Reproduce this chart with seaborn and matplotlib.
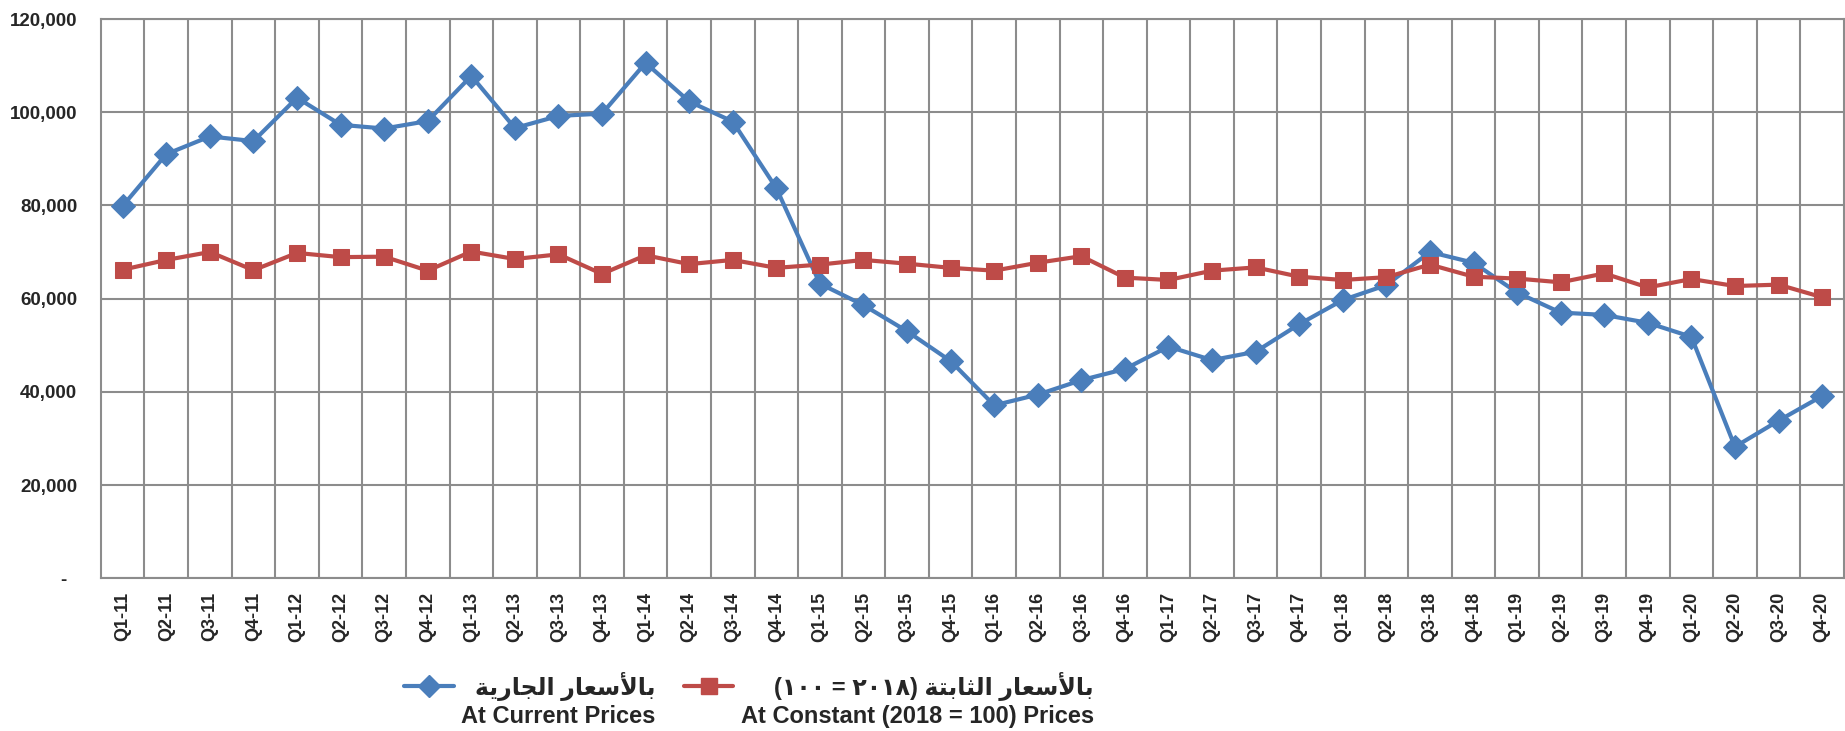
import numpy as np
import pandas as pd
import matplotlib
matplotlib.use("Agg")
import matplotlib.pyplot as plt
from matplotlib.lines import Line2D
from matplotlib.legend_handler import HandlerLine2D
from matplotlib.ticker import FuncFormatter, MultipleLocator
import seaborn as sns

# quarters on the x axis
quarters = ["Q1-11", "Q2-11", "Q3-11", "Q4-11", "Q1-12", "Q2-12", "Q3-12", "Q4-12",
            "Q1-13", "Q2-13", "Q3-13", "Q4-13", "Q1-14", "Q2-14", "Q3-14", "Q4-14",
            "Q1-15", "Q2-15", "Q3-15", "Q4-15", "Q1-16", "Q2-16", "Q3-16", "Q4-16",
            "Q1-17", "Q2-17", "Q3-17", "Q4-17", "Q1-18", "Q2-18", "Q3-18", "Q4-18",
            "Q1-19", "Q2-19", "Q3-19", "Q4-19", "Q1-20", "Q2-20", "Q3-20", "Q4-20"]

# at current prices
current = [79900, 91000, 94800, 93800, 103100, 97300, 96500, 98100,
           107800, 96600, 99200, 99700, 110600, 102300, 98000, 83700,
           63200, 58600, 53000, 46600, 37100, 39400, 42500, 44900,
           49700, 46800, 48600, 54500, 59700, 62900, 70000, 67700,
           61300, 57000, 56500, 54800, 51800, 28200, 33800, 39100]

# at constant (2018 = 100) prices
constant = [66200, 68300, 70000, 66100, 69800, 68900, 69000, 66000,
            70100, 68500, 69500, 65300, 69300, 67400, 68300, 66600,
            67300, 68300, 67500, 66600, 66000, 67700, 69100, 64500,
            64000, 66000, 66700, 64700, 64000, 64600, 67300, 64700,
            64300, 63500, 65400, 62400, 64200, 62700, 63000, 60300]

label_current = ("بالأسعار الجارية", "At Current Prices")
label_constant = ("بالأسعار الثابتة (٢٠١٨ = ١٠٠)", "At Constant (2018 = 100) Prices")


# --- tiny Arabic shaper (matplotlib has no bidi / joining support) ---
FORMS = {  # isolated, final, initial, medial
    "ب": "\uFE8F\uFE90\uFE91\uFE92", "ل": "\uFEDD\uFEDE\uFEDF\uFEE0",
    "س": "\uFEB1\uFEB2\uFEB3\uFEB4", "ع": "\uFEC9\uFECA\uFECB\uFECC",
    "ج": "\uFE9D\uFE9E\uFE9F\uFEA0", "ي": "\uFEF1\uFEF2\uFEF3\uFEF4",
    "ث": "\uFE99\uFE9A\uFE9B\uFE9C", "ت": "\uFE95\uFE96\uFE97\uFE98",
    "ا": "\uFE8D\uFE8E", "أ": "\uFE83\uFE84", "ر": "\uFEAD\uFEAE", "ة": "\uFE93\uFE94",
}
LAM_ALEF = {"ا": "\uFEFB\uFEFC", "أ": "\uFEF7\uFEF8"}


def shape(text):
    # merge lam + alef into ligature tokens first
    toks = []
    i = 0
    while i < len(text):
        c = text[i]
        if c == "ل" and i + 1 < len(text) and text[i + 1] in LAM_ALEF:
            toks.append(("LA", LAM_ALEF[text[i + 1]]))
            i += 2
        else:
            toks.append((c, FORMS.get(c)))
            i += 1
    out = []
    for k, (c, forms) in enumerate(toks):
        if forms is None:
            out.append(c)
            continue
        prev = toks[k - 1] if k > 0 else None
        nxt = toks[k + 1] if k + 1 < len(toks) else None
        j_prev = prev is not None and prev[1] is not None and len(prev[1]) == 4
        j_next = nxt is not None and nxt[1] is not None and len(forms) == 4
        if len(forms) == 2:
            out.append(forms[1] if j_prev else forms[0])
        elif j_prev and j_next:
            out.append(forms[3])
        else:
            out.append(forms[(1 if j_prev else 0) + (2 if j_next else 0)])
    return "".join(out)


def visual(text):
    s = shape(text)[::-1]
    # digits read left to right again, brackets mirrored
    res, run = [], ""
    for c in s:
        if "\u0660" <= c <= "\u0669" or c.isdigit():
            run += c
        else:
            res.append(run[::-1]); run = ""
            res.append({"(": ")", ")": "("}.get(c, c))
    res.append(run[::-1])
    return "".join(res)


class RaisedLine(HandlerLine2D):
    # legend handle drawn level with the first (Arabic) line of the label
    def create_artists(self, *args, **kwargs):
        arts = super().create_artists(*args, **kwargs)
        for a in arts:
            a.set_ydata([y + 7 for y in a.get_ydata()])
        return arts


sns.set_style("white")
plt.rcParams["font.family"] = ["Liberation Sans", "DejaVu Sans"]
plt.rcParams["font.weight"] = "bold"

blue = "#4A7EBB"
red = "#BE4B48"
grid_c = "#8C8C8C"

x = np.arange(len(quarters))
df = pd.DataFrame({"x": x, "current": current, "constant": constant})

fig = plt.figure(figsize=(18.45, 7.31), dpi=100)
ax = fig.add_axes([0.0547, 0.209, 0.9447, 0.765])

sns.lineplot(data=df, x="x", y="current", ax=ax, color=blue, lw=3,
             marker="D", markersize=12, markeredgecolor=blue, legend=False, zorder=3)
sns.lineplot(data=df, x="x", y="constant", ax=ax, color=red, lw=3,
             marker="s", markersize=12, markeredgecolor=red, legend=False, zorder=3)

ax.set_xlim(-0.5, len(quarters) - 0.5)
ax.set_ylim(0, 120000)
ax.yaxis.set_major_locator(MultipleLocator(20000))
ax.yaxis.set_major_formatter(FuncFormatter(lambda v, p: "-  " if v == 0 else f"{v:,.0f}"))
ax.set_xticks(x)
ax.set_xticklabels(quarters, rotation=90)
ax.set_xticks(x[:-1] + 0.5, minor=True)
ax.grid(True, axis="y", color=grid_c, lw=1.5)
ax.grid(True, axis="x", which="minor", color=grid_c, lw=1.5)
ax.grid(False, axis="x", which="major")
ax.tick_params(axis="both", which="both", length=0)
ax.tick_params(axis="y", labelsize=13.5, pad=17)
ax.tick_params(axis="x", labelsize=13, pad=10)
for t in ax.get_xticklabels() + ax.get_yticklabels():
    t.set_fontweight("bold")
for s in ax.spines.values():
    s.set_color(grid_c)
    s.set_linewidth(1.5)
ax.set_xlabel("")
ax.set_ylabel("")

handles = [Line2D([], [], color=blue, lw=3, marker="D", markersize=11),
           Line2D([], [], color=red, lw=3, marker="s", markersize=12)]
labels = [visual(label_current[0]) + "\n" + label_current[1],
          visual(label_constant[0]) + "\n" + label_constant[1]]
leg = fig.legend(handles, labels, loc="center", bbox_to_anchor=(0.406, 0.042), ncol=2,
                 frameon=False, fontsize=17, handlelength=2.1, handleheight=2.2,
                 handletextpad=0.3, columnspacing=1.2, borderaxespad=0,
                 handler_map={Line2D: RaisedLine()})
for t in leg.get_texts():
    t.set_multialignment("right")
    t.set_fontweight("bold")
    t.set_linespacing(1.2)

fig.savefig("out.png", dpi=100)
